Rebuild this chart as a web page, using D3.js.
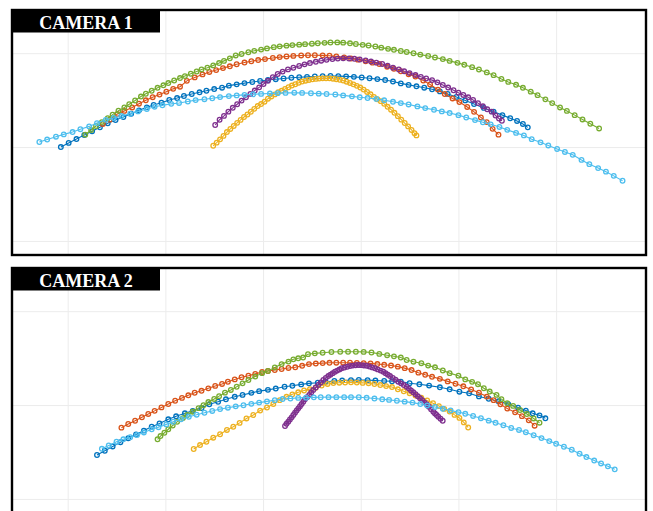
<!DOCTYPE html>
<html>
<head>
<meta charset="utf-8">
<script src="https://cdn.jsdelivr.net/npm/d3@7"></script>
<style>
  body { margin: 0; background: #fff; }
  svg { display: block; }
</style>
</head>
<body>
<svg id="chart" width="653" height="511"></svg>
<script>
// Panel titles, grid ticks and series colours
const panelTitles = ["CAMERA 1", "CAMERA 2"];
const xTicks = [100, 200, 300, 400, 500, 600];
const yTicks = [100, 200, 300];
const seriesColors = ["#0072BD", "#D95319", "#EDB120", "#7E2F8E", "#77AC30", "#4DBEEE"];

// ---- Camera 1 trajectories (image coordinates, y grows downward) ----
const cam1BlueX = [93,101,109,117,125,133,141,149,157,165,173,181,188,196,204,212,219,227,235,242,250,258,265,273,281,289,297,305,313,321,329,337,345,353,361,369,377,385,393,401,409,417,425,433,441,449,457,465,473,481,489,498,507,516,526,536,545,553,560,566,571];
const cam1BlueY = [200,195.6,191.5,187.2,183.1,179,174.7,171.2,168.1,164.5,160.9,157.7,155.2,152.8,149.9,147.8,145.6,143.5,141.7,140,138.2,136.8,134.6,133.2,131.9,130.7,129.6,128.6,127.7,126.9,126.2,125.6,125.2,124.8,124.5,124.3,124.4,124.7,125.2,125.9,126.7,127.6,128.6,130.2,132.2,133.8,135.3,136.8,138.4,140.7,143.4,146.6,150.3,154.2,158.3,162.3,166,169.3,172.2,175.4,179];

const cam1OrangeX = [136,143,151,158,166,173,180,187,194,201,208,215,222,230,238,245,252,259,266,273,281,288,295,302,310,317,324,331,339,346,353,361,368,375,383,390,397,405,412,419,427,434,441,449,456,464,471,479,486,494,501,509,516,523,529,535,541];
const cam1OrangeY = [175.4,170.8,164.7,161.5,157.8,153.8,150.2,146.9,144.1,141.1,138,135.7,129.5,125.8,122.6,120,118,115.9,114,111.8,110,108.6,107.3,106.3,105.1,104.2,103.5,102.9,102.4,102.2,102.2,102.3,102.7,103.4,104.5,105.7,106.9,108.6,110.1,111.6,114.4,116.7,119.3,122.5,124.9,129.2,133.3,138.8,143.5,148.2,152.1,157.3,162.5,168.4,173.4,180.6,186.8];

const cam1YellowX = [249,252.5,256,259.5,263,266.5,270,273.5,277,280.5,284,287.5,291,294.5,298,301.5,305,308.5,312,315.5,319,322.5,326,329.5,333,336.5,340,343.5,347,350.5,354,357.5,361,364.5,368,371.5,375,378.5,382,385.5,389,392.5,396,399.5,403,406.5,410,413.5,417,420.5,424,427.5,431,434.5,438,441.5,445,448.5,452,455,457];
const cam1YellowY = [198.6,195.3,191.8,188.1,184,180.7,177.5,174.2,171.1,168,165.3,162.4,159.3,156.3,154.2,151.7,148.5,146.1,143.9,141.7,140.1,138.1,136.3,134.5,133.1,131.6,130.2,129.3,128.5,127.9,127.4,127.1,126.8,126.8,126.8,127.2,127.7,128.3,129.1,130.4,131.7,133.2,134.8,136.6,138.8,141.3,143.8,146.5,149,151.1,154,157.1,160.2,163.5,167.1,170.8,174.4,178,181.8,185.3,187.6];

const cam1PurpleX = [251,255.5,260,264.5,269,273.5,278,282.5,287,291.5,296,300.5,305,310,315,320,325.5,331,337,342.5,348,354,359.5,365,371,376.5,382,388,393.5,399,405,410.5,416,422,427.5,433,439,444.5,450,456,461.5,467,473,478.5,484,489.5,495,500,505,510,515,520,525,529.5,534,538,541.5,544.5];
const cam1PurpleY = [176.5,170.9,166.8,162.3,158.2,154.4,150.5,147,143.4,139.8,136.4,132.9,129.4,125.5,122.2,119.6,117.3,115.5,113.6,111.9,110.5,109.2,108,107.1,106.3,105.8,105.5,105.7,106,106.8,107.8,108.9,110.1,111.5,113.4,115.4,117.4,119.3,121.2,123.3,125.2,127,128.7,131.1,133.9,136.6,139.5,142.1,144.5,147,149.8,153.2,156.6,159.8,162.3,166.4,169.6,172];

const cam1GreenX = [118,124,129,135,141,146,152,158,163,169,175,180,186,192,198,203,209,215,220,226,232,237,243,249,255,260,266,272,278,285,291,298,304,311,317,324,330,337,343,350,356,363,369,376,382,389,395,402,408,415,421,428,434,441,447,454,461,469,476,484,491,499,506,514,521,529,536,544,551,559,566,574,581,589,596,604,611,619,627,635,644];
const cam1GreenY = [186.8,181.8,177.6,173.4,169.3,165.5,161.3,157.8,154.4,150.4,146.2,143.2,140,136.9,134.2,131.8,129.1,126.5,124.4,121.9,119.5,117.3,115.5,113,110.5,108.2,105.5,102.4,100.8,99,97.5,96.2,94.9,93.6,92.7,92,91.4,90.9,90.4,89.9,89.4,89,88.6,88.5,88.8,89.5,90.2,91.1,91.8,92.9,94.1,95.4,96.4,97.7,98.7,100.1,101.5,103,104.6,106.3,108.2,110.3,112.4,114.9,117.4,120.5,123.4,127.4,130.6,133.7,136.9,141,144.7,149.2,153.2,157.8,161.5,166,170.6,175.2,180.2];

const cam1CyanX = [71,79,88,96,105,113,122,130,139,147,155,164,172,181,189,197,206,214,223,231,240,248,256,265,273,281,290,298,307,315,323,332,340,349,357,365,374,382,391,399,407,416,424,433,441,449,458,466,475,483,491,500,508,517,525,533,542,550,559,567,575,584,592,601,609,617,626,634,643,651,659,668];
const cam1CyanY = [194.6,192,189,186.5,184,181,178,174.5,171,169,167,164.5,162,159.5,157,155.5,154,153,151.5,150,149,148,146.8,145.7,145,144.4,143.8,143.4,143,142.6,142.3,142.1,142.3,142.7,143.1,143.5,144,145,146,147,147.8,148.7,150.2,151.8,153.2,154.6,156.7,158.5,160.3,162,163.8,166,168.5,171.3,173.6,175.8,178.6,181.7,184.9,187.6,191.6,195,198.3,202,205.2,208.3,213.7,218.2,222.4,226.2,230.7,235.9];

// ---- Camera 2 trajectories ----
const cam2BlueX = [130,138,146,154,162,170,178,186,194,203,211,220,228,237,245,254,262,271,279,288,296,305,313,322,330,339,347,356,364,373,381,390,398,407,415,424,432,441,450,460,470,481,491,501,511,521,531,541,551,561,569,576,583,589];
const cam2BlueY = [253.2,248.7,244.1,239.6,235.4,231.3,227.2,223.1,219.6,215.2,212,208.8,206.2,203.2,199.2,196.5,193.9,191.2,189.2,187,185.2,183.8,182.4,180.5,179.5,178,176.9,176.2,175.2,174.3,173.9,173.5,173.3,173.5,173.9,174.3,174.7,175,176.7,177.9,179.3,181.1,183.2,185.8,187.5,190.8,193.3,196,199,202.7,205.9,208.8,211,214.1];

const cam2OrangeX = [155,162,169,176,182.5,189,196,203,210,217,223.5,230,237,244,251,258,264,271,278,285,292,299,305,312,319,326,333,340,347,354,361,368,375,382,389,396,403,410,417,424,431,438,445,452,459,466,473,481,489,497,505,513,521,529,536,543,550,558,565,572,578];
const cam2OrangeY = [224.1,220.2,216.7,213,209.5,206.2,202.5,198.9,195.4,192.4,189.6,186.9,184.8,182.2,179.6,177.5,175.2,172.7,170.4,168.7,166.8,164.8,163.8,162.7,161.6,160.5,159.8,158.2,156.4,155.8,155.3,155,154.9,154.9,154.9,155.1,155.3,155.6,156.3,157.1,157.9,159.1,160.7,162.7,165.5,167.8,169.9,172.1,174.8,177.3,180,183.4,186.9,191,194.8,199.2,203.8,207.8,211.8,216.3,222];

const cam2YellowX = [229,235.5,242,249,256,263,269.5,276,283,290,297,304,310.5,317,324,330,336,342,348,354,360,366,372,378,384,390,396,402,408,414,420,426,432,438,444,450,456,462,468,474,480,485.5,491,496,501,505.5,510];
const cam2YellowY = [246.8,242.6,239.1,234.8,231.1,226.5,223.1,219,214.3,210.6,205.9,202.6,198.9,194.8,191.2,188.6,186.4,184.5,183,181.5,179.2,177.5,176.6,176.2,176,175.8,176.1,176.4,176.7,177.6,178.7,179.8,180.8,183.2,185.3,187.4,189.9,192.3,195.1,198,201.1,204.1,206.9,210.5,213.7,218.5,223.9];

const cam2PurpleX = [322.5,324,325.8,327.5,329.3,331,332.7,334.4,336.1,337.8,339.5,341.2,342.9,345.1,347.3,349.3,351.4,353.9,356.5,359.1,361.7,364.2,366.8,369,371.3,373.6,375.9,378.2,380.5,383.3,386.2,389,391.8,394.7,397.5,400.4,403.2,406.1,408.9,411.8,414.6,417.4,420.3,423.1,425.4,427.7,430,432.8,435.6,438.4,441.3,444.1,447,449.3,451.5,453.8,456.1,458.4,460.7,463,465.2,467.5,469.8,472,474.3,476,477.7,479.4,481.7,483.9];
const cam2PurpleY = [222.3,220,217.7,215.4,213.1,210.6,208.1,205.8,203.5,201.2,198.9,196.4,193.9,191.6,189.3,186.7,184,181.3,178.6,175.9,173.3,171.2,169.1,167.6,166,164.5,163.3,162,160.8,160,159.2,158.4,158,157.6,157.3,157.5,157.8,158.1,159,159.9,160.8,162,163.3,164.5,166,167.6,169.1,171.1,173.1,175.1,176.9,178.7,180.5,182.5,184.4,186.4,188.5,190.7,192.8,194.9,197.1,199.2,201.8,204.5,207.1,208.9,210.6,212.4,214.6,216.7];

const cam2GreenX = [192,195,199,203,207.5,212,218,222.5,228,234,239,244,250,255,261,267,273,279,285,292,299,305,312,319,326,331,336,341,346,353,361,370,379,387,395,403,411,419,427,434,441,447,454,462,469,476,484,491,500,507,514,520,526,532,539,544,550,556,563,570,577,583];
const cam2GreenY = [236.5,233,229.5,225.8,221.8,217.9,213.9,210.6,207.1,203.3,200.2,196.8,193.5,190.5,186.8,183.9,180.5,176.9,173.3,169.7,166,163.6,159.9,156.4,153.7,151.3,150.2,149.4,145.8,144.9,144.3,143.5,143.2,143.2,143.2,143.4,144,145.5,146.9,148.1,149.4,152,153.8,155.4,158,159.8,163.2,166,168.7,172.7,175.3,177.8,182.1,185.6,189.2,193.7,198.1,200.9,205.3,209.6,214.3,218.8];

const cam2CyanX = [135,142,150,157,164,171,178,186,193,201,208,216,224,232,240,248,256,264,272,280,288,296,304,312,320,328,336,344,352,359,367,375,383,390,398,406,414,422,429,437,445,453,461,468,476,484,492,500,507,515,523,531,538,546,554,562,569,577,585,593,600,608,616,624,631,639,646,653,660];
const cam2CyanY = [246.6,243.1,239.1,236.5,234.3,231.8,229.2,225.8,223.6,220.6,217.8,215.1,212.5,210.3,208.2,206.3,204.3,202.8,201.4,200.2,198.7,197.4,196.1,194.9,193.6,193,192.4,192.1,191.8,191.7,191.6,191.6,191.6,191.6,191.7,192.3,193.1,193.9,194.5,195.4,196.4,197.4,198.9,200.4,202,204,205.8,207.5,209.3,211.6,214,216.6,218.9,221.5,224.4,226.5,228.9,232.1,235.2,238.4,241.3,244.4,247.6,251.9,255.4,259.1,262.2,265.3,268.5];

// Series are listed in plotting order; later ones sit on top.
const panels = [
  { title: panelTitles[0], top: 10, series: [
      [cam1BlueX, cam1BlueY], [cam1OrangeX, cam1OrangeY], [cam1YellowX, cam1YellowY],
      [cam1PurpleX, cam1PurpleY], [cam1GreenX, cam1GreenY], [cam1CyanX, cam1CyanY]] },
  { title: panelTitles[1], top: 268, series: [
      [cam2BlueX, cam2BlueY], [cam2OrangeX, cam2OrangeY], [cam2YellowX, cam2YellowY],
      [cam2PurpleX, cam2PurpleY], [cam2GreenX, cam2GreenY], [cam2CyanX, cam2CyanY]] }
];

const svg = d3.select("#chart");
const left = 12, right = 646, panelH = 245;
const x = d3.scaleLinear().domain([43, 692]).range([left, right]);

panels.forEach((p, i) => {
  const y = d3.scaleLinear().domain([54, 315]).range([p.top, p.top + panelH]);
  const g = svg.append("g");

  const clipId = "plot-clip-" + i;
  svg.append("clipPath").attr("id", clipId)
    .append("rect").attr("x", left).attr("y", p.top)
    .attr("width", right - left).attr("height", panelH);

  // light grid
  g.append("g")
    .attr("transform", `translate(0,${p.top + panelH})`)
    .call(d3.axisBottom(x).tickValues(xTicks).tickSize(-panelH).tickFormat(""))
    .call(a => { a.select(".domain").remove(); a.selectAll("line").attr("stroke", "#ececec"); });
  g.append("g")
    .attr("transform", `translate(${left},0)`)
    .call(d3.axisLeft(y).tickValues(yTicks).tickSize(-(right - left)).tickFormat(""))
    .call(a => { a.select(".domain").remove(); a.selectAll("line").attr("stroke", "#ececec"); });

  const plot = g.append("g").attr("clip-path", `url(#${clipId})`);
  const line = d3.line().x(d => x(d[0])).y(d => y(d[1]));

  p.series.forEach(([xs, ys], k) => {
    const pts = xs.map((v, j) => [v, ys[j]]);
    const s = plot.append("g");
    s.append("path").datum(pts)
      .attr("d", line)
      .attr("fill", "none")
      .attr("stroke", seriesColors[k])
      .attr("stroke-width", 1.1);
    s.selectAll("circle").data(pts).join("circle")
      .attr("cx", d => x(d[0]))
      .attr("cy", d => y(d[1]))
      .attr("r", 2.3)
      .attr("fill", "none")
      .attr("stroke", seriesColors[k])
      .attr("stroke-width", 1.3);
  });

  // panel frame
  g.append("rect")
    .attr("x", left).attr("y", p.top)
    .attr("width", right - left).attr("height", panelH)
    .attr("fill", "none").attr("stroke", "#000").attr("stroke-width", 2.4);

  // title tab
  g.append("rect")
    .attr("x", left).attr("y", p.top)
    .attr("width", 148).attr("height", 22.5)
    .attr("fill", "#000");
  g.append("text")
    .attr("x", left + 74).attr("y", p.top + 18.6)
    .attr("text-anchor", "middle")
    .attr("fill", "#fff")
    .attr("font-family", "'Liberation Serif', 'Times New Roman', serif")
    .attr("font-weight", "bold")
    .attr("font-size", 18)
    .text(p.title);
});
</script>
</body>
</html>
